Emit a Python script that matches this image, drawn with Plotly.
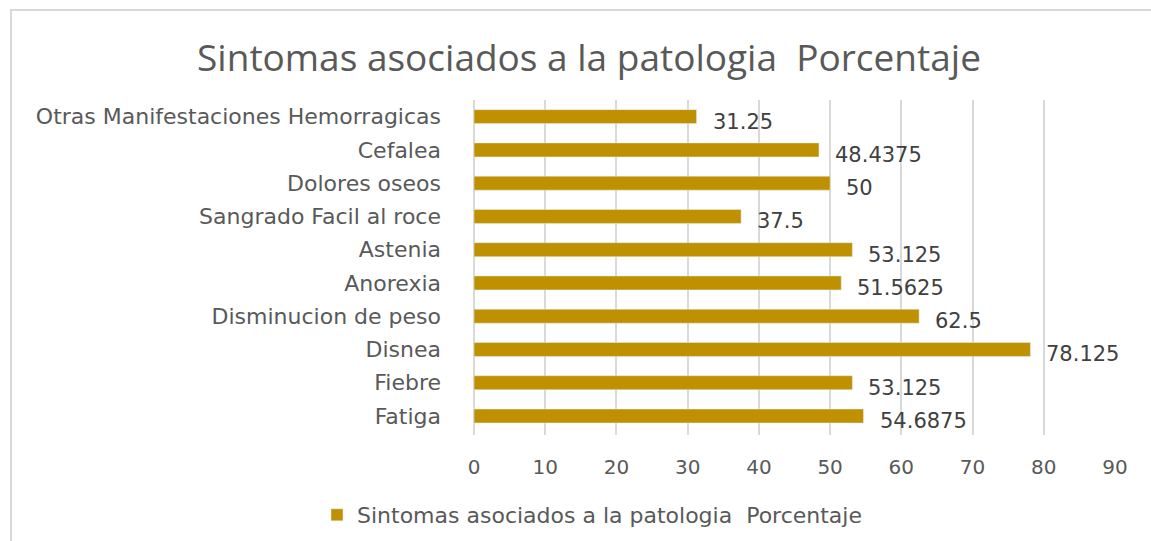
import plotly.graph_objects as go

categories = ["Fatiga", "Fiebre", "Disnea", "Disminucion de peso", "Anorexia",
              "Astenia", "Sangrado Facil al roce", "Dolores oseos", "Cefalea",
              "Otras Manifestaciones Hemorragicas"]
values = [54.6875, 53.125, 78.125, 62.5, 51.5625, 53.125, 37.5, 50, 48.4375, 31.25]
value_labels = ["54.6875", "53.125", "78.125", "62.5", "51.5625", "53.125", "37.5", "50", "48.4375", "31.25"]
tick_vals = [0, 10, 20, 30, 40, 50, 60, 70, 80, 90]
series_name = "Sintomas asociados a la patologia  Porcentaje"

W, H = 1151, 541
L, R, T, B = 474, 1115, 100, 435

def px_x(p):
    return (p - L) / (R - L)

def px_y(p):
    return (B - p) / (B - T)

FONT = "DejaVu Sans"
GRAY = "#595959"
GOLD = "#BF9000"

fig = go.Figure()
fig.add_trace(go.Bar(
    y=categories, x=values, orientation="h", name=series_name,
    marker=dict(color=GOLD), width=0.42, showlegend=True,
))

annotations = []
for c, v, t in zip(categories, values, value_labels):
    annotations.append(dict(x=v, y=c, xref="x", yref="y", text=t, showarrow=False,
                            xanchor="left", yanchor="middle", xshift=14, yshift=-5,
                            font=dict(family=FONT, size=21, color="#404040")))

shapes = [
    dict(type="line", xref="paper", yref="paper", x0=px_x(10), x1=px_x(W), y0=px_y(10), y1=px_y(10),
         line=dict(color="#d9d9d9", width=2)),
    dict(type="line", xref="paper", yref="paper", x0=px_x(11), x1=px_x(11), y0=px_y(10), y1=px_y(H),
         line=dict(color="#d9d9d9", width=2)),
]

fig.update_layout(
    width=W, height=H,
    margin=dict(l=L, r=W - R, t=T, b=H - B, autoexpand=False),
    paper_bgcolor="white", plot_bgcolor="white",
    title=dict(text="Sintomas asociados a la patologia  Porcentaje", x=589 / W, xanchor="center",
               y=1 - 58 / H, yanchor="middle", xref="container", yref="container",
               font=dict(family="Open Sans", size=37, color=GRAY)),
    xaxis=dict(range=[0, 90], tickvals=tick_vals, showgrid=True, gridcolor="#d9d9d9", gridwidth=2,
               zeroline=True, zerolinecolor="#d9d9d9", zerolinewidth=2,
               tickfont=dict(family=FONT, size=20, color=GRAY), ticks="", ticklabelstandoff=18,
               fixedrange=True),
    yaxis=dict(categoryorder="array", categoryarray=categories, showgrid=False,
               tickfont=dict(family=FONT, size=22, color=GRAY), ticks="", ticklabelstandoff=32,
               showline=False, fixedrange=True),
    legend=dict(orientation="h", x=px_x(592), xanchor="center", y=px_y(515), yanchor="middle",
                font=dict(family=FONT, size=22, color=GRAY)),
    annotations=annotations, shapes=shapes,
    bargap=0.58,
)

fig.write_html("out.html", config={"displayModeBar": False},
               post_script="document.body.style.margin='0';document.body.style.overflow='hidden';")
